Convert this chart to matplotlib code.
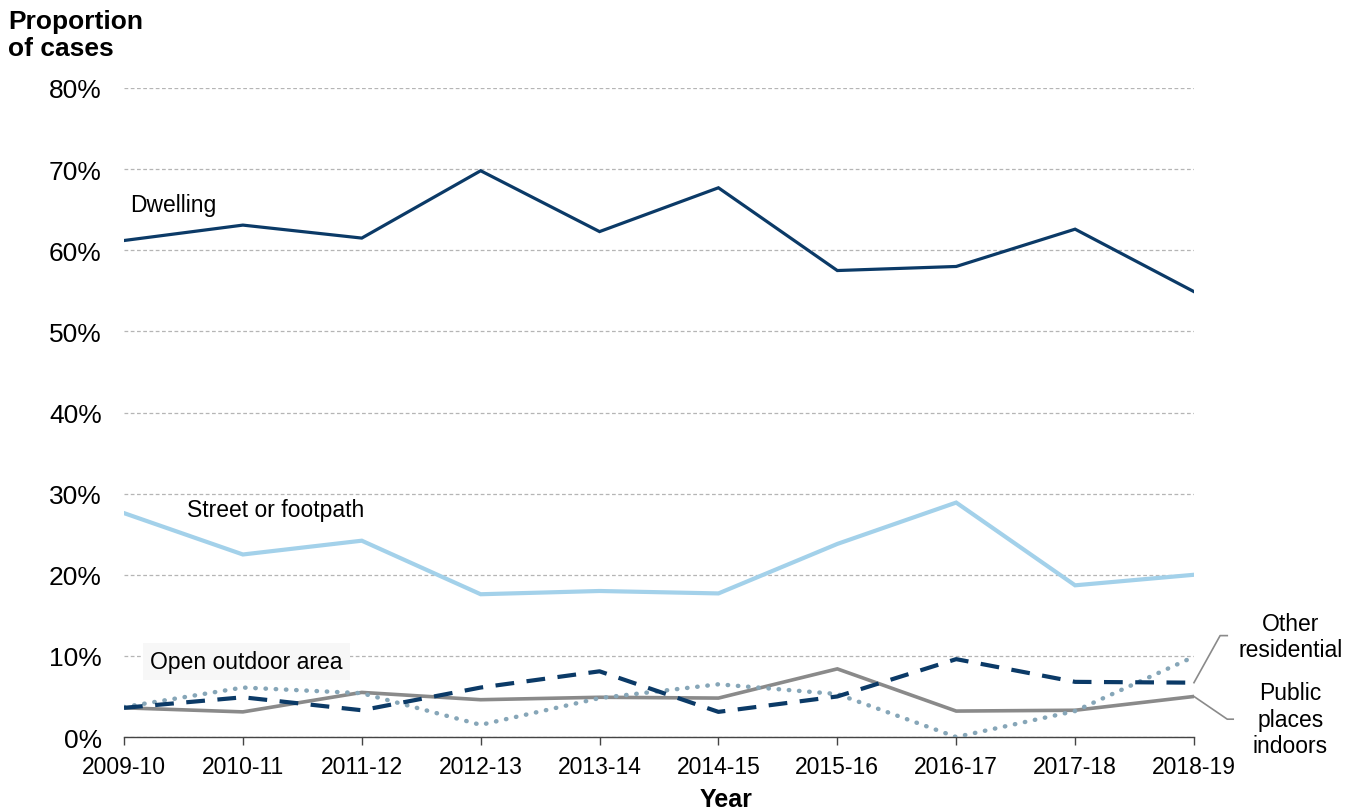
import numpy as np
import matplotlib
matplotlib.use("Agg")
import matplotlib.pyplot as plt
from matplotlib.ticker import PercentFormatter

plt.rcParams["font.family"] = ["Liberation Sans", "DejaVu Sans"]

# Data (percent of cases)
years = ["2009-10", "2010-11", "2011-12", "2012-13", "2013-14",
         "2014-15", "2015-16", "2016-17", "2017-18", "2018-19"]
dwelling = [61.2, 63.1, 61.5, 69.8, 62.3, 67.7, 57.5, 58.0, 62.6, 54.9]
street = [27.6, 22.5, 24.2, 17.6, 18.0, 17.7, 23.8, 28.9, 18.7, 20.0]
other_residential = [3.6, 4.9, 3.3, 6.1, 8.1, 3.1, 5.0, 9.6, 6.8, 6.7]
open_outdoor = [3.7, 6.1, 5.4, 1.5, 4.8, 6.5, 5.3, 0.0, 3.2, 9.9]
public_indoors = [3.6, 3.1, 5.5, 4.6, 4.9, 4.8, 8.4, 3.2, 3.3, 5.0]

navy = "#0b3a67"
light_blue = "#a3d1ea"
grey = "#8a8a8a"
dot_blue = "#86a6b8"

fig = plt.figure(figsize=(13.45, 8.12), dpi=100)
ax = fig.add_axes([0.0922, 0.0911, 0.7955, 0.7993])

x = np.arange(len(years))
ax.plot(x, public_indoors, color=grey, lw=2.6, solid_joinstyle="miter", zorder=3)
ax.plot(x, open_outdoor, color=dot_blue, lw=3.2, linestyle=(0, (0.1, 2.2)),
        dash_capstyle="round", zorder=3)
ax.plot(x, other_residential, color=navy, lw=3.0, linestyle=(0, (4.5, 3)), zorder=4)
ax.plot(x, street, color=light_blue, lw=3.0, solid_joinstyle="miter", zorder=3)
ax.plot(x, dwelling, color=navy, lw=2.3, solid_joinstyle="miter", zorder=3)

# axes & grid
ax.set_xlim(0, len(years) - 1)
ax.set_ylim(0, 80)
ax.set_yticks(np.arange(0, 81, 10))
ax.yaxis.set_major_formatter(PercentFormatter(decimals=0))
ax.yaxis.grid(True, color="#b5b5b5", linestyle=(0, (3, 2)), lw=0.9)
ax.set_axisbelow(True)
for s in ["left", "right", "top"]:
    ax.spines[s].set_visible(False)
ax.spines["bottom"].set_color("#444444")
ax.spines["bottom"].set_linewidth(1.0)
ax.set_xticks(x)
ax.set_xticklabels(years)
ax.tick_params(axis="x", direction="out", length=6, width=1.0, color="#444444",
               pad=7, labelsize=16.5)
ax.tick_params(axis="y", length=0, pad=16, labelsize=19)

ax.set_xlabel("Year", fontsize=18, fontweight="bold", va="center")
ax.xaxis.set_label_coords(0.563, -0.096)
fig.text(0.006, 0.988, "Proportion\nof cases", fontsize=19, fontweight="bold",
         ha="left", va="top", linespacing=1.15)

# series labels
ax.text(0.05, 65.6, "Dwelling", fontsize=16.5, ha="left", va="center")
ax.text(0.53, 28.0, "Street or footpath", fontsize=16.5, ha="left", va="center")
ax.text(0.22, 9.3, "Open outdoor area", fontsize=16.5, ha="left", va="center",
        bbox=dict(boxstyle="square,pad=0.3", facecolor="#f7f7f7", edgecolor="none"))
ax.text(9.81, 12.4, "Other\nresidential", fontsize=16.5, ha="center", va="center",
        linespacing=1.2)
ax.text(9.81, 2.2, "Public\nplaces\nindoors", fontsize=16.5, ha="center", va="center",
        linespacing=1.2)

# leader lines to the end points
ax.plot([9.0, 9.22, 9.28], [other_residential[-1], 12.5, 12.5], color=grey, lw=1.2,
        clip_on=False)
ax.plot([9.0, 9.28, 9.33], [public_indoors[-1], 2.2, 2.2], color=grey, lw=1.2,
        clip_on=False)

fig.savefig("out.png", dpi=100)
